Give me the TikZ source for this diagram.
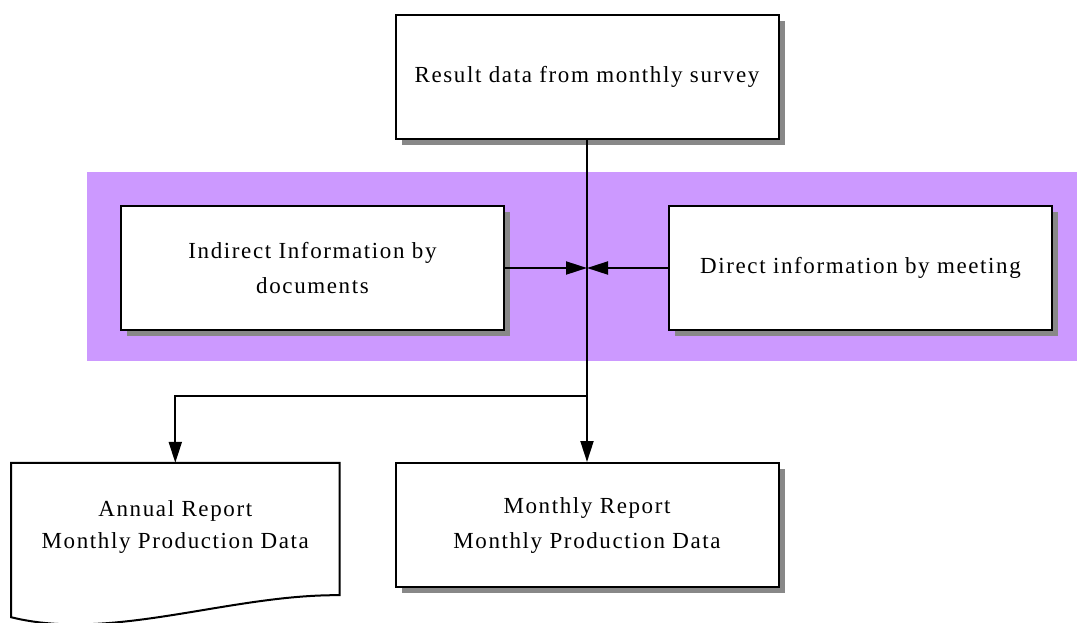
\documentclass[tikz,border=0pt]{standalone}
\usepackage{fontspec}
\setmainfont{Liberation Serif}[LetterSpace=7]
\usetikzlibrary{positioning}
\usetikzlibrary{arrows.meta}
\usetikzlibrary{shadows}
\usetikzlibrary{backgrounds}
\usetikzlibrary{calc}
\definecolor{bandpurple}{HTML}{CC99FF}
\definecolor{shadowgray}{HTML}{888888}
\tikzstyle{block} = [draw, rectangle, line width=2pt, fill=white, minimum height=124pt, minimum width=383pt, align=center, drop shadow={shadow xshift=6pt, shadow yshift=-6pt, fill=shadowgray, opacity=1}]
\tikzstyle{docbox} = [rectangle, minimum height=124pt, minimum width=328pt, align=center]
\tikzstyle{junction} = [coordinate]
\tikzstyle{conn} = [line width=2pt]

\begin{document}
\begin{tikzpicture}[x=1pt, y=-1pt, >={Triangle[length=21pt, width=13pt]}, font=\fontsize{23}{35}\selectfont]
    \useasboundingbox (0,0) rectangle (1077,622);
    \node[block, name=survey] at (587,77) {Result data from monthly survey};
    \node[junction, below=128pt of survey.south, name=junc] {};
    \node[block, left=82pt of junc, name=indirect] {Indirect Information by\\documents};
    \node[block, right=81pt of junc, name=direct] {Direct information by meeting};
    \node[junction, below=128pt of junc, name=split] {};
    \node[block, below=194pt of junc, name=monthly] {Monthly Report\\Monthly Production Data};
    \node[docbox, left=55pt of monthly, name=annual] {\raisebox{-4pt}{\begin{tabular}{@{}c@{}}Annual Report\\[-3pt]Monthly Production Data\end{tabular}}};

    % purple band and document shape behind the nodes
    \begin{pgfonlayer}{background}
        \fill[bandpurple] (87,172) rectangle (1077,361);
        \fill[shadowgray, shift={(6,6)}] (annual.north west) -- (annual.north east)
           -- ($(annual.south east)+(0,8)$)
           .. controls ($(annual.south east)+(-110,7)$) and ($(annual.south west)+(100,55)$) .. ($(annual.south west)+(0,30)$) -- cycle;
        \filldraw[conn, fill=white] (annual.north west) -- (annual.north east)
           -- ($(annual.south east)+(0,8)$)
           .. controls ($(annual.south east)+(-110,7)$) and ($(annual.south west)+(100,55)$) .. ($(annual.south west)+(0,30)$) -- cycle;
    \end{pgfonlayer}

    \draw[conn, ->] (survey) -- (monthly);
    \draw[conn, ->] (indirect) -- (junc);
    \draw[conn, ->] (direct) -- (junc);
    \draw[conn, ->] (split) -| (annual);
\end{tikzpicture}
\end{document}
